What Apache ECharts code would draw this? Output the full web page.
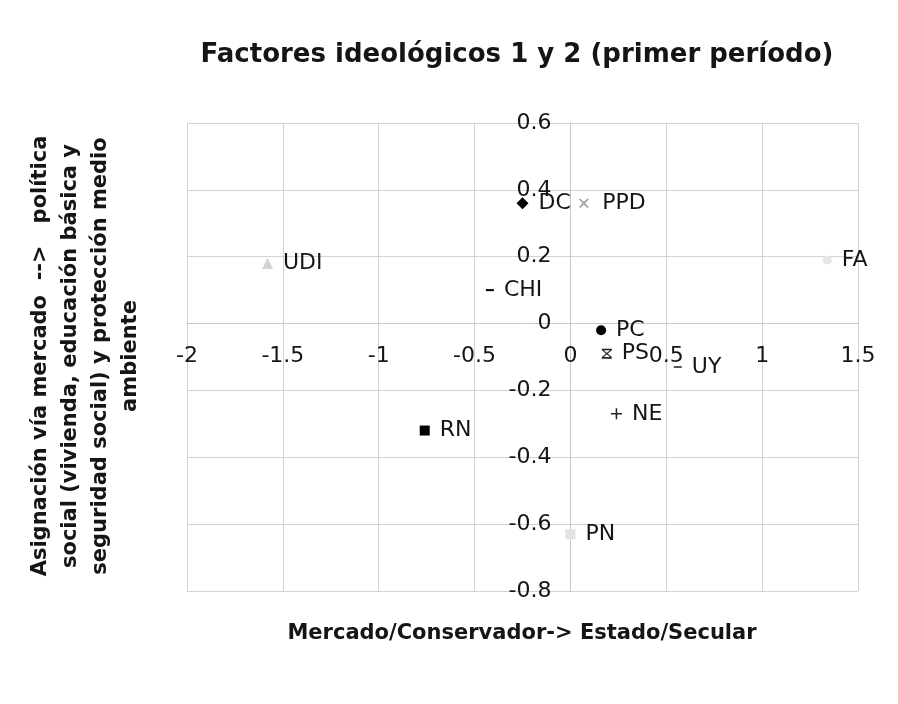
<!DOCTYPE html>
<html>
<head>
<meta charset="utf-8">
<title>Factores ideológicos 1 y 2</title>
<script src="https://cdn.jsdelivr.net/npm/echarts@6/dist/echarts.min.js"></script>
<style>
  html, body { margin: 0; padding: 0; background: #fff; }
  #chart { width: 898px; height: 704px; }
</style>
</head>
<body>
<div id="chart"></div>
<script>
// datos
var partidos = ['DC', 'PPD', 'UDI', 'CHI', 'FA', 'PC', 'PS', 'UY', 'NE', 'RN', 'PN'];
var factor1 = [-0.25, 0.07, -1.58, -0.42, 1.34, 0.16, 0.19, 0.56, 0.24, -0.76, 0.0];
var factor2 = [0.36, 0.36, 0.18, 0.10, 0.19, -0.02, -0.09, -0.13, -0.27, -0.32, -0.63];
var xTicks = [-2, -1.5, -1, -0.5, 0, 0.5, 1, 1.5];
var yTicks = [-0.8, -0.6, -0.4, -0.2, 0, 0.2, 0.4, 0.6];

var fuente = 'DejaVu Sans';

// marcadores (estilo Excel)
var plusPath = 'path://M4.3,0H5.7V4.3H10V5.7H5.7V10H4.3V5.7H0V4.3H4.3Z';
var starPath = 'path://M0,0H10V1.6H0Z M0,8.4H10V10H0Z M0,1.6H1.8L10,8.4H8.2Z M8.2,1.6H10L1.8,8.4H0Z';
var marcas = {
  DC:  { symbol: 'diamond', size: 12, color: '#000', rot: 0 },
  PPD: { symbol: plusPath, size: 12, color: '#a0a0a0', rot: 45 },
  UDI: { symbol: 'triangle', size: 11, color: '#d2d2d2', rot: 0 },
  CHI: { symbol: 'rect', size: [8, 2], color: '#000', rot: 0 },
  FA:  { symbol: 'circle', size: 9, color: '#e6e6e6', rot: 0 },
  PC:  { symbol: 'circle', size: 10, color: '#000', rot: 0 },
  PS:  { symbol: starPath, size: 10, color: '#222', rot: 0 },
  UY:  { symbol: 'rect', size: [8, 2], color: '#555', rot: 0 },
  NE:  { symbol: plusPath, size: 11, color: '#222', rot: 0 },
  RN:  { symbol: 'rect', size: 10, color: '#000', rot: 0 },
  PN:  { symbol: 'rect', size: 10, color: '#e2e2e2', rot: 0 }
};

var series = partidos.map(function (p, i) {
  var m = marcas[p];
  return {
    name: p,
    type: 'scatter',
    data: [[factor1[i], factor2[i]]],
    symbol: m.symbol,
    symbolSize: m.size,
    symbolRotate: m.rot,
    itemStyle: { color: m.color, opacity: 1 },
    label: {
      show: true,
      position: 'right',
      distance: 10,
      formatter: p,
      color: '#151515',
      fontSize: 22,
      fontFamily: fuente
    }
  };
});

var tituloY = 'Asignación vía mercado  -->   política\n' +
              'social (vivienda, educación básica y\n' +
              'seguridad social) y protección medio\n' +
              'ambiente';

// área del gráfico
var gridBox = { left: 187, right: 40, top: 123, bottom: 113 };
var plotW = 898 - gridBox.left - gridBox.right;
var plotH = 704 - gridBox.top - gridBox.bottom;
var xMin = xTicks[0], xMax = xTicks[xTicks.length - 1];
var yMin = yTicks[0], yMax = yTicks[yTicks.length - 1];
// los ejes cruzan en el origen (0, 0)
var xAxisShift = -plotH * (0 - yMin) / (yMax - yMin);
var yAxisShift = -plotW * (0 - xMin) / (xMax - xMin);

var option = {
  animation: false,
  backgroundColor: '#fff',
  textStyle: { fontFamily: fuente },
  title: {
    text: 'Factores ideológicos 1 y 2 (primer período)',
    left: 512,
    textAlign: 'center',
    top: 37,
    textStyle: { fontSize: 26, fontWeight: 'bold', color: '#151515', fontFamily: fuente }
  },
  grid: gridBox,
  xAxis: {
    type: 'value',
    min: xMin,
    max: xMax,
    interval: 0.5,
    position: 'bottom',
    offset: xAxisShift,
    axisLine: { show: true, onZero: false, lineStyle: { color: '#c8c8c8', width: 1 } },
    axisTick: { show: false },
    axisLabel: { margin: 22, fontSize: 22, color: '#151515', fontFamily: fuente },
    splitLine: { show: true, lineStyle: { color: '#d2d2d2', width: 1 } }
  },
  yAxis: {
    type: 'value',
    min: yMin,
    max: yMax,
    interval: 0.2,
    position: 'left',
    offset: yAxisShift,
    axisLine: { show: true, onZero: false, lineStyle: { color: '#c8c8c8', width: 1 } },
    axisTick: { show: false },
    axisLabel: {
      margin: 19, fontSize: 22, color: '#151515', fontFamily: fuente,
      formatter: function (v) { return String(Math.round(v * 10) / 10); }
    },
    splitLine: { show: true, lineStyle: { color: '#d2d2d2', width: 1 } }
  },
  graphic: [
    {
      type: 'text',
      x: 522,
      y: 634,
      style: {
        text: 'Mercado/Conservador-> Estado/Secular',
        font: 'bold 21px "DejaVu Sans"',
        fill: '#151515',
        textAlign: 'center',
        textVerticalAlign: 'middle'
      }
    },
    {
      type: 'text',
      x: 86,
      y: 356,
      rotation: Math.PI / 2,
      style: {
        text: tituloY,
        font: 'bold 21px "DejaVu Sans"',
        lineHeight: 30,
        fill: '#151515',
        textAlign: 'center',
        textVerticalAlign: 'middle'
      }
    }
  ],
  series: series
};

var chart = echarts.init(document.getElementById('chart'));
chart.setOption(option);
</script>
</body>
</html>
